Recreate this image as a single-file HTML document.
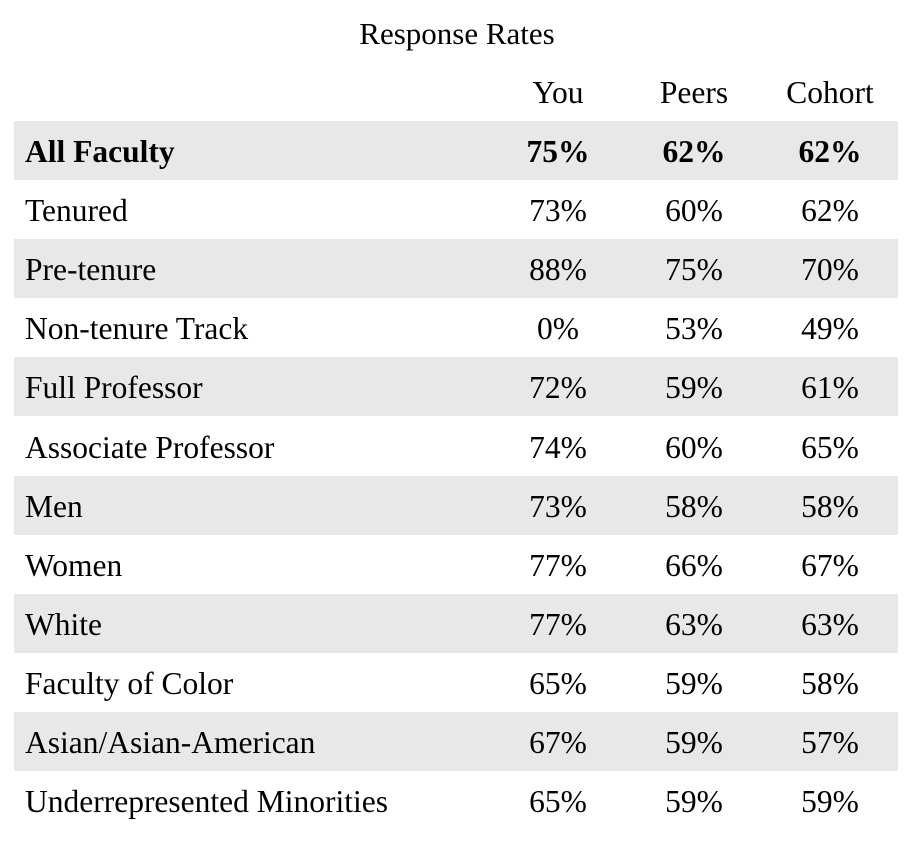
<!DOCTYPE html>
<html><head><style>
body{margin:0;width:914px;height:842px;background:#fff;font-family:"Liberation Serif",serif;color:#000;position:relative;overflow:hidden}
.t{position:absolute;font-size:31.5px;line-height:32px;white-space:nowrap}
.band{position:absolute;left:14px;width:884px;height:59px;background:#e8e8e8}
.c{transform:translateX(-50%)}
</style></head><body>
<div class="t c" style="left:457px;top:18px;font-size:31px">Response Rates</div>
<div class="t c" style="left:558px;top:77px">You</div>
<div class="t c" style="left:694px;top:77px">Peers</div>
<div class="t c" style="left:830px;top:77px">Cohort</div>
<div id="rows"></div>
<script>
var d=[["All Faculty","75%","62%","62%"],["Tenured","73%","60%","62%"],["Pre-tenure","88%","75%","70%"],["Non-tenure Track","0%","53%","49%"],["Full Professor","72%","59%","61%"],["Associate Professor","74%","60%","65%"],["Men","73%","58%","58%"],["Women","77%","66%","67%"],["White","77%","63%","63%"],["Faculty of Color","65%","59%","58%"],["Asian/Asian-American","67%","59%","57%"],["Underrepresented Minorities","65%","59%","59%"]];
var h="";
d.forEach(function(r,i){var top=121+i*59.1;var ty=top+15;var b=i==0?"font-weight:bold;":"";
if(i%2==0)h+='<div class="band" style="top:'+top+'px"></div>';
h+='<div class="t" style="left:25px;top:'+ty+'px;'+b+'">'+r[0]+'</div>';
[558,694,830].forEach(function(x,j){h+='<div class="t c" style="left:'+x+'px;top:'+ty+'px;'+b+'">'+r[j+1]+'</div>';});});
document.getElementById("rows").innerHTML=h;
</script>
</body></html>
